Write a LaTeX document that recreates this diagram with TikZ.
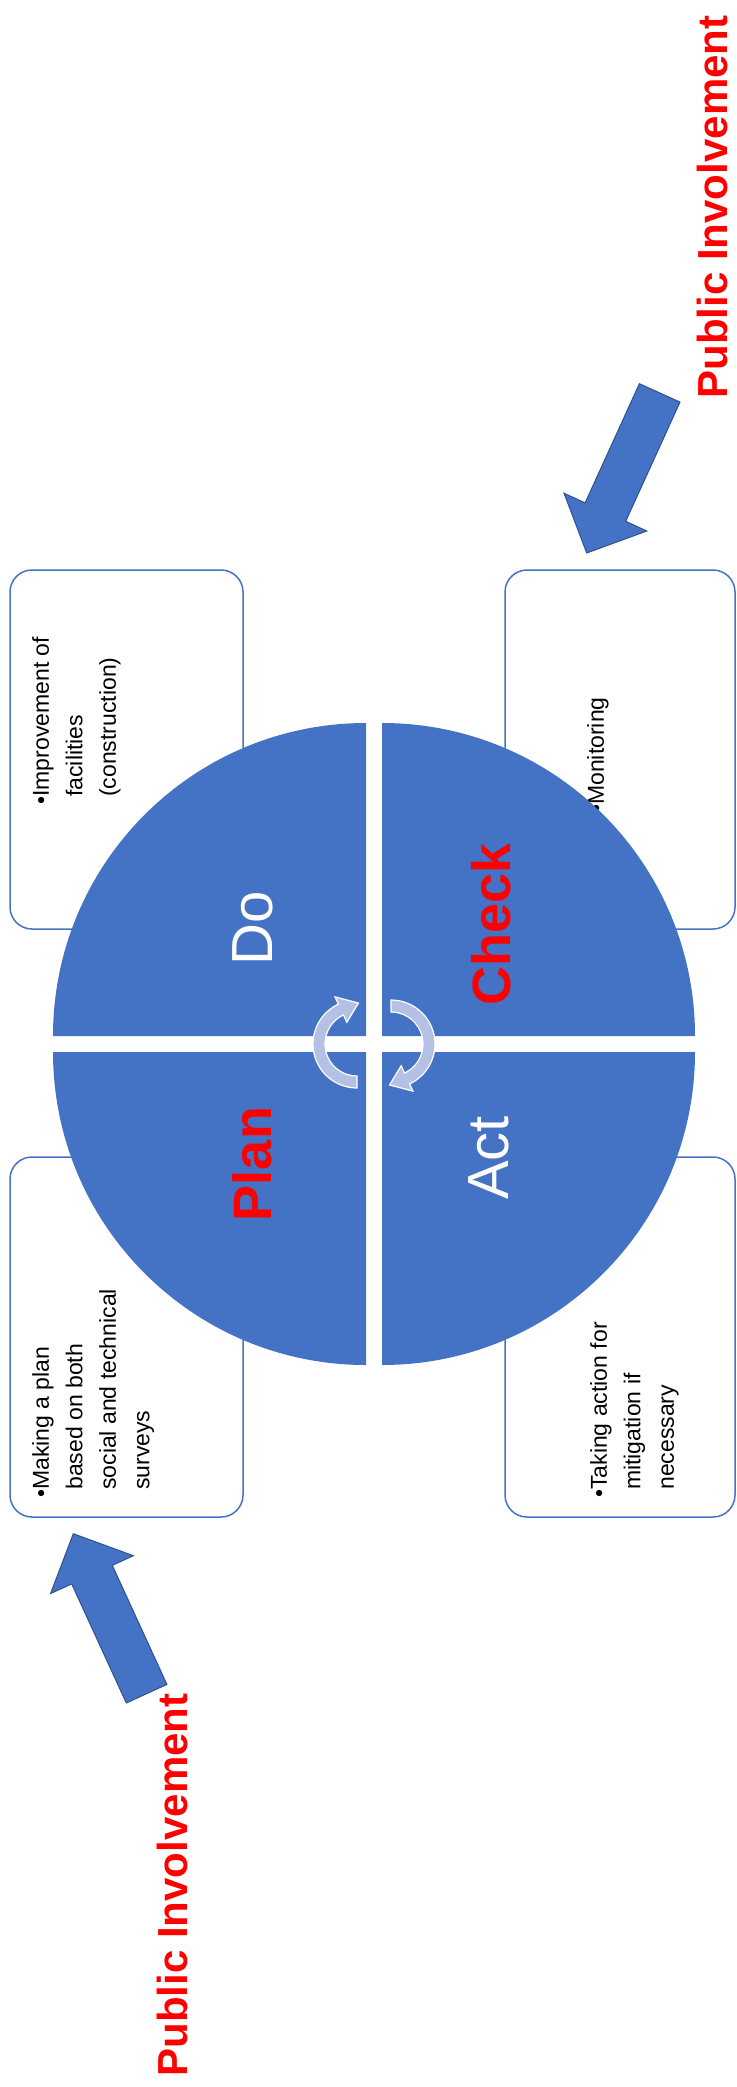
\documentclass[tikz,border=0pt]{standalone}
\usepackage{fontspec}
\setmainfont{Liberation Sans}
\usetikzlibrary{calc}
\definecolor{pdcablue}{HTML}{4472C4}
\definecolor{pdcaedge}{HTML}{2F528F}
\definecolor{pdcalight}{RGB}{180,193,228}
\newcommand{\hangbul}{\phantom{\textbullet}}
\tikzset{
  panel/.style      = {draw=pdcablue, fill=white, line width=1.5pt, rounded corners=22pt, inner sep=0pt},
  quarter/.style    = {fill=pdcablue},
  bodytext/.style   = {rotate=90, anchor=north west, align=left, inner sep=0pt,
                       font={\fontsize{23}{33.5}\selectfont}},
  steplabel/.style  = {rotate=90, anchor=base, inner sep=0pt},
  redlabel/.style   = {steplabel, text=red, font={\bfseries\fontsize{54}{60}\selectfont}},
  whitelabel/.style = {steplabel, text=white, font={\fontsize{58}{64}\selectfont}},
  pilabel/.style    = {steplabel, text=red, font={\bfseries\fontsize{42}{48}\selectfont}},
  bigarrow/.style   = {fill=pdcablue, draw=pdcaedge, line width=1pt},
  cyclearrow/.style = {fill=pdcalight, draw=white, line width=1.2pt}
}

\begin{document}
\begin{tikzpicture}[x=1pt, y=-1pt]
  \useasboundingbox (0,0) rectangle (736,2087);

  % side panels
  \node[panel, minimum width=233pt, minimum height=359pt] (dobox) at (126.5,749.5) {};
  \node[panel, minimum width=230pt, minimum height=359pt] (checkbox) at (620,749.5) {};
  \node[panel, minimum width=233pt, minimum height=360pt] (planbox) at (126.5,1337) {};
  \node[panel, minimum width=230pt, minimum height=360pt] (actbox) at (620,1337) {};

  \node[bodytext] (dotxt) at (32,805) {\textbullet Improvement of\\\hangbul facilities\\\hangbul (construction)};
  \node[bodytext] (checktxt) at (587,813) {\textbullet Monitoring};
  \node[bodytext] (plantxt) at (32,1498) {\textbullet Making a plan\\\hangbul based on both\\\hangbul social and technical\\\hangbul surveys};
  \node[bodytext] (acttxt) at (590,1498) {\textbullet Taking action for\\\hangbul mitigation if\\\hangbul necessary};

  % the four quarters
  \fill[quarter] (366,1036) -- (53,1036) arc[start angle=180, end angle=270, radius=313] -- cycle;
  \fill[quarter] (382,1036) -- (382,723) arc[start angle=270, end angle=360, radius=313] -- cycle;
  \fill[quarter] (382,1052) -- (695,1052) arc[start angle=0, end angle=90, radius=313] -- cycle;
  \fill[quarter] (366,1052) -- (366,1365) arc[start angle=90, end angle=180, radius=313] -- cycle;

  \node[whitelabel] (do) at (272,928) {Do};
  \node[redlabel] (check) at (510,924) {Check};
  \node[whitelabel] (act) at (508,1158) {Act};
  \node[redlabel] (plan) at (271,1164) {Plan};

  % turning arrows in the middle
  \foreach \cx/\rot in {357/0, 391/180}{
    \filldraw[cyclearrow] ($(\cx,1044)+(90+\rot:44)$) arc[start angle=90+\rot, end angle=245+\rot, radius=44]
      -- ($(\cx,1044)+(245+\rot:52)$) -- ($(\cx,1044)+(272+\rot:41)$) -- ($(\cx,1044)+(245+\rot:24)$)
      -- ($(\cx,1044)+(245+\rot:32)$) arc[start angle=245+\rot, end angle=90+\rot, radius=32] -- cycle;
  }

  % public involvement
  \filldraw[bigarrow] (73.3,1533.7) -- (133.4,1555.7) -- (112.3,1565.3) -- (166.9,1684.4)
    -- (126.3,1703.0) -- (71.7,1583.9) -- (50.6,1593.5) -- cycle;
  \filldraw[bigarrow] (586.7,553) -- (564.0,493.2) -- (585.1,502.9) -- (639.4,383.7)
    -- (680.0,402.1) -- (625.7,521.3) -- (646.8,531.0) -- cycle;
  \node[pilabel] (pibottom) at (187,1885) {Public Involvement};
  \node[pilabel] (pitop) at (727,207) {Public Involvement};
\end{tikzpicture}
\end{document}
